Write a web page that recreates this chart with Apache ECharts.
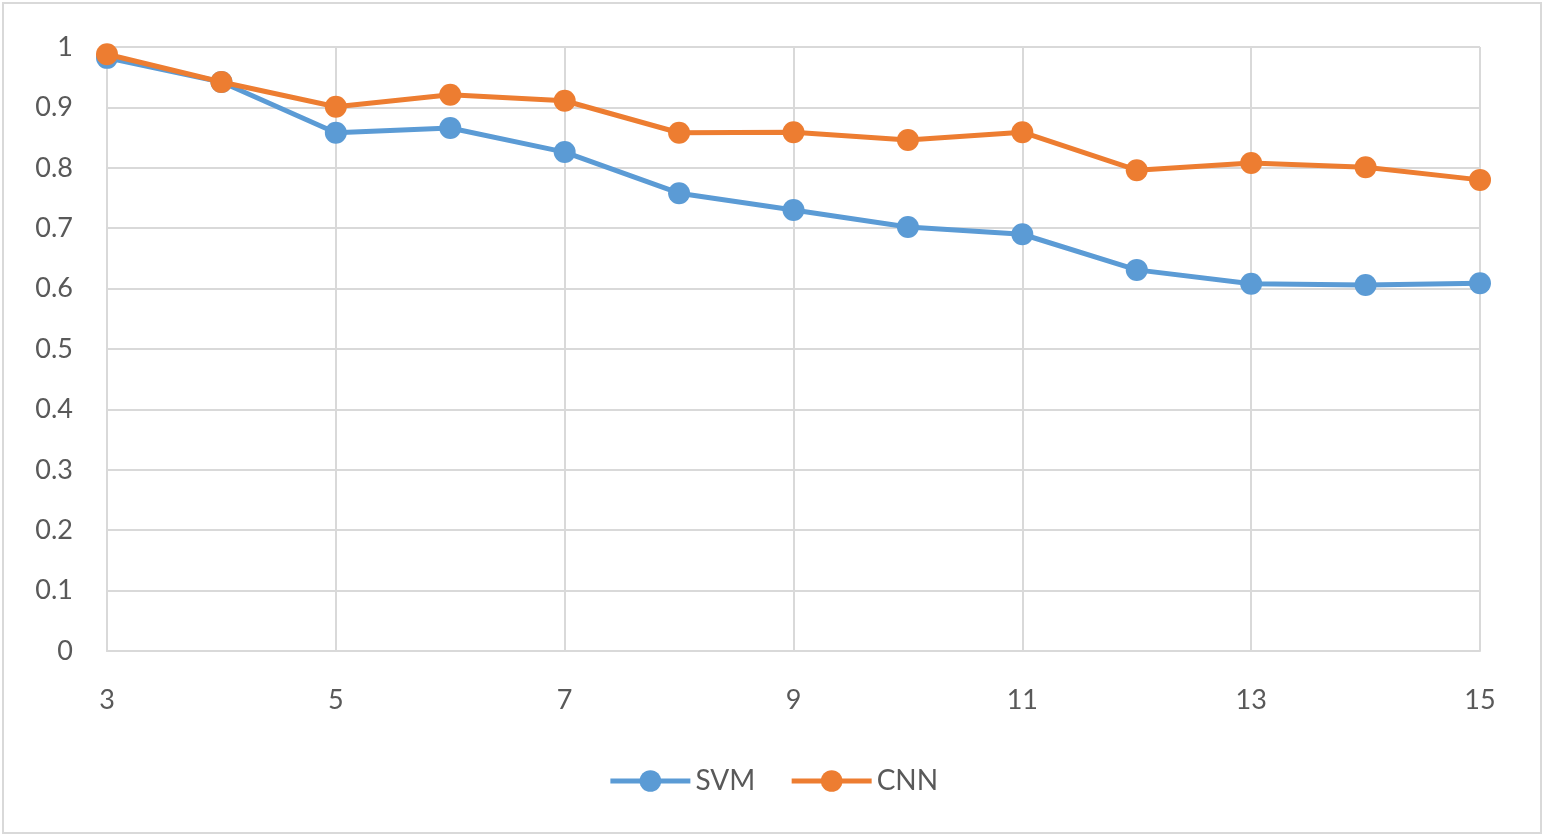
<!DOCTYPE html>
<html>
<head>
<meta charset="utf-8">
<script src="https://cdn.jsdelivr.net/npm/echarts@6/dist/echarts.min.js"></script>
<style>
html, body { margin: 0; padding: 0; background: #fff; }
#chart { width: 1546px; height: 838px; }
</style>
</head>
<body>
<div id="chart"></div>
<script>
// x 轴类别
var xData = ["3", "4", "5", "6", "7", "8", "9", "10", "11", "12", "13", "14", "15"];
// 各模型准确率
var svmData = [0.982, 0.942, 0.858, 0.866, 0.826, 0.758, 0.730, 0.702, 0.690, 0.631, 0.608, 0.606, 0.609];
var cnnData = [0.988, 0.942, 0.901, 0.921, 0.911, 0.858, 0.859, 0.846, 0.859, 0.796, 0.808, 0.801, 0.780];
var colors = ["#5b9bd5", "#ed7d31"];

var chart = echarts.init(document.getElementById("chart"));
var font = "Lato, 'Open Sans', sans-serif";
var gridColor = "#d9d9d9";
var textColor = "#595959";

chart.setOption({
  color: colors,
  animation: false,
  graphic: [
    {
      type: "rect",
      shape: { x: 3, y: 3, width: 1538, height: 830 },
      style: { fill: "none", stroke: gridColor, lineWidth: 2 }
    }
  ],
  grid: {
    left: 107,
    right: 66,
    top: 47,
    bottom: 187
  },
  legend: {
    bottom: 38,
    left: "center",
    itemWidth: 80,
    itemHeight: 27,
    itemGap: 34,
    lineStyle: { width: 5 },
    textStyle: {
      fontFamily: font,
      fontSize: 28,
      color: textColor
    },
    data: ["SVM", "CNN"]
  },
  xAxis: {
    type: "category",
    boundaryGap: false,
    data: xData,
    axisLine: { lineStyle: { color: gridColor, width: 2 } },
    axisTick: { show: false },
    axisLabel: {
      interval: 1,
      margin: 36,
      fontFamily: font,
      fontSize: 27,
      color: textColor
    },
    splitLine: {
      show: true,
      interval: 1,
      lineStyle: { color: gridColor, width: 2 }
    }
  },
  yAxis: {
    type: "value",
    min: 0,
    max: 1,
    interval: 0.1,
    axisLine: { show: true, lineStyle: { color: gridColor, width: 2 } },
    axisTick: { show: false },
    axisLabel: {
      margin: 34,
      fontFamily: font,
      fontSize: 27,
      color: textColor,
      formatter: function (v) {
        return Math.round(v * 10) / 10 + "";
      }
    },
    splitLine: {
      lineStyle: { color: gridColor, width: 2 }
    }
  },
  series: [
    {
      name: "SVM",
      type: "line",
      data: svmData,
      symbol: "circle",
      symbolSize: 22,
      lineStyle: { width: 5 },
      z: 2
    },
    {
      name: "CNN",
      type: "line",
      data: cnnData,
      symbol: "circle",
      symbolSize: 22,
      lineStyle: { width: 5 },
      z: 3
    }
  ]
});
</script>
</body>
</html>
